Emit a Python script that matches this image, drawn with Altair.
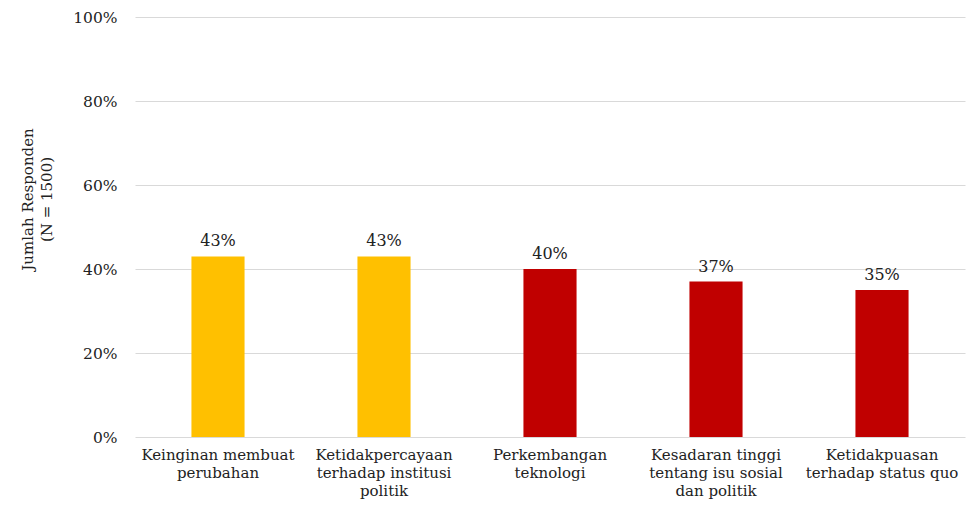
import altair as alt
import pandas as pd

categories = [
    "Keinginan membuat|perubahan",
    "Ketidakpercayaan|terhadap institusi|politik",
    "Perkembangan|teknologi",
    "Kesadaran tinggi|tentang isu sosial|dan politik",
    "Ketidakpuasan|terhadap status quo",
]
values = [0.43, 0.43, 0.40, 0.37, 0.35]
group = ["top", "top", "other", "other", "other"]

df = pd.DataFrame({"cat": categories, "val": values, "grp": group})

FONT = "DejaVu Serif"

x = alt.X(
    "cat:N",
    sort=categories,
    title=None,
    scale=alt.Scale(paddingInner=0.68, paddingOuter=0.34),
    axis=alt.Axis(
        labelExpr="split(datum.label, '|')",
        labelAngle=0,
        labelFont=FONT,
        labelFontSize=15,
        labelColor="#222222",
        labelLineHeight=18,
        labelPadding=17,
        labelBaseline="middle",
        ticks=False,
        domain=False,
        grid=False,
        labelLimit=220,
    ),
)

y = alt.Y(
    "val:Q",
    scale=alt.Scale(domain=[0, 1]),
    axis=alt.Axis(
        format=".0%",
        values=[0, 0.2, 0.4, 0.6, 0.8, 1.0],
        title=["Jumlah Responden", "(N = 1500)"],
        titleFont=FONT,
        titleFontSize=15,
        titleFontWeight="normal",
        titleColor="#222222",
        titleAngle=270,
        titleX=-100,
        titleY=182,
        titleLineHeight=19,
        labelFont=FONT,
        labelFontSize=15.5,
        labelColor="#222222",
        labelPadding=18,
        ticks=False,
        domain=False,
        gridColor="#d9d9d9",
        gridWidth=1,
    ),
)

bars = alt.Chart(df).mark_bar().encode(
    x=x,
    y=y,
    color=alt.Color(
        "grp:N",
        scale=alt.Scale(domain=["top", "other"], range=["#FFC000", "#C00000"]),
        legend=None,
    ),
)

labels = alt.Chart(df).mark_text(
    font=FONT, fontSize=16, color="#222222", baseline="bottom", dy=-7
).encode(
    x=alt.X("cat:N", sort=categories),
    y="val:Q",
    text=alt.Text("val:Q", format=".0%"),
)

chart = (
    alt.layer(bars, labels)
    .properties(
        width=830,
        height=420,
        background="white",
        autosize=alt.AutoSizeParams(type="none"),
        padding={"left": 127, "top": 9, "right": 3, "bottom": 65},
    )
    .configure_view(stroke=None)
    .configure_axisX(grid=False, domain=False)
)

chart.save("out.html", embed_options={"renderer": "svg", "actions": False})
